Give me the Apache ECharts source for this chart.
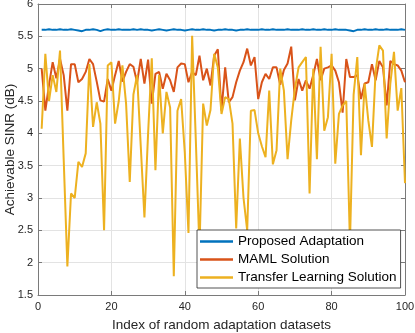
<!DOCTYPE html>
<html>
<head>
<meta charset="utf-8">
<script src="https://cdn.jsdelivr.net/npm/echarts@6/dist/echarts.min.js"></script>
<style>
  html, body { margin: 0; padding: 0; background: #fff; }
  #chart { width: 415px; height: 333px; }
</style>
</head>
<body>
<div id="chart"></div>
<script>
// series values, index 1..100
const proposed = [
  5.60, 5.60, 5.61, 5.60, 5.60, 5.61, 5.60, 5.60, 5.61, 5.60,
  5.59, 5.58, 5.60, 5.60, 5.61, 5.60, 5.58, 5.60, 5.61, 5.60,
  5.60, 5.61, 5.60, 5.60, 5.60, 5.61, 5.60, 5.61, 5.60, 5.60,
  5.59, 5.60, 5.61, 5.60, 5.59, 5.60, 5.61, 5.60, 5.60, 5.59,
  5.60, 5.61, 5.60, 5.60, 5.61, 5.60, 5.60, 5.59, 5.60, 5.60,
  5.61, 5.60, 5.60, 5.59, 5.60, 5.60, 5.61, 5.60, 5.60, 5.60,
  5.61, 5.60, 5.60, 5.61, 5.60, 5.60, 5.60, 5.61, 5.60, 5.60,
  5.60, 5.61, 5.60, 5.60, 5.61, 5.60, 5.60, 5.61, 5.60, 5.60,
  5.61, 5.60, 5.60, 5.60, 5.59, 5.58, 5.60, 5.60, 5.61, 5.60,
  5.60, 5.61, 5.60, 5.60, 5.61, 5.60, 5.60, 5.60, 5.61, 5.60
]

const maml = [
  5.00, 4.35, 4.75, 5.10, 4.85, 5.15, 4.90, 4.35, 5.07, 5.07,
  4.79, 4.84, 4.95, 5.15, 5.07, 4.80, 4.51, 4.49, 4.84, 4.66,
  4.90, 5.12, 4.80, 4.95, 5.07, 5.03, 4.79, 5.15, 4.77, 5.14,
  4.46, 4.92, 4.95, 4.69, 4.92, 4.82, 4.64, 5.02, 5.08, 5.07,
  4.79, 4.95, 4.90, 5.20, 4.82, 5.00, 4.74, 5.20, 5.30, 4.35,
  5.02, 4.48, 4.56, 4.79, 4.97, 5.10, 5.31, 5.05, 5.18, 4.53,
  4.79, 4.92, 4.84, 5.02, 5.02, 4.75, 4.98, 5.08, 5.34, 4.51,
  4.84, 4.66, 4.82, 4.69, 4.90, 5.15, 4.82, 5.00, 5.02, 5.05,
  4.97, 4.79, 4.32, 5.15, 4.87, 4.87, 4.90, 4.53, 4.77, 4.79,
  5.07, 4.82, 5.12, 5.02, 4.43, 5.12, 5.07, 5.05, 4.97, 4.79
]

const transfer = [
  4.07, 5.23, 4.50, 4.90, 4.64, 5.28, 3.60, 1.94, 3.07, 3.00,
  3.56, 3.48, 3.69, 5.07, 4.10, 4.48, 4.15, 2.50, 5.05, 5.10,
  4.15, 4.50, 5.05, 4.46, 3.25, 4.60, 4.90, 3.80, 2.70, 4.00,
  5.16, 3.43, 4.90, 4.00, 4.64, 4.40, 1.79, 4.35, 4.53, 3.70,
  2.46, 5.51, 3.90, 2.20, 4.46, 4.12, 4.36, 5.23, 5.02, 4.30,
  4.56, 4.53, 4.15, 2.53, 3.92, 3.00, 2.50, 4.35, 4.36, 4.00,
  3.80, 3.63, 4.66, 3.52, 3.74, 5.00, 4.66, 3.60, 4.20, 4.69,
  5.02, 5.10, 5.18, 3.07, 5.00, 3.60, 5.34, 4.04, 4.25, 5.23,
  3.53, 4.30, 4.43, 4.50, 2.30, 4.60, 5.18, 3.66, 4.77, 4.20,
  3.79, 4.97, 5.36, 5.28, 3.92, 4.77, 5.26, 4.35, 4.70, 3.23
]

const seriesNames = ['Proposed Adaptation', 'MAML Solution', 'Transfer Learning Solution']
const seriesColors = ['#0072BD', '#D95319', '#EDB120']
const xTicks = [0, 20, 40, 60, 80, 100]
const yTicks = [1.5, 2, 2.5, 3, 3.5, 4, 4.5, 5, 5.5, 6]

const FONT = '"Liberation Sans", Arial, Helvetica, sans-serif'
const AXIS_COLOR = '#7a7a7a'
const TEXT_COLOR = '#262626'

const toPoints = arr => arr.map((v, k) => [k + 1, v])

const chart = echarts.init(document.getElementById('chart'), null, { renderer: 'canvas' })

const baseX = {
  type: 'value',
  min: xTicks[0],
  max: xTicks[xTicks.length - 1],
  interval: 20,
  axisLine: { show: true, onZero: false, lineStyle: { color: AXIS_COLOR, width: 1 } },
  axisTick: { show: true, inside: true, length: 4, lineStyle: { color: AXIS_COLOR } },
}
const baseY = {
  type: 'value',
  min: yTicks[0],
  max: yTicks[yTicks.length - 1],
  interval: 0.5,
  axisLine: { show: true, onZero: false, lineStyle: { color: AXIS_COLOR, width: 1 } },
  axisTick: { show: true, inside: true, length: 4, lineStyle: { color: AXIS_COLOR } },
}

chart.setOption({
  animation: false,
  backgroundColor: '#fff',
  textStyle: { fontFamily: FONT },
  grid: { left: 38, right: 10, top: 4, bottom: 38, containLabel: false, outerBoundsMode: 'none' },
  legend: {
    data: seriesNames,
    orient: 'vertical',
    left: 197,
    top: 230,
    icon: 'rect',
    itemWidth: 33,
    itemHeight: 2.5,
    itemGap: 3,
    padding: [4, 4, 3, 3],
    backgroundColor: '#fff',
    borderColor: '#262626',
    borderWidth: 0.8,
    borderRadius: 0,
    textStyle: { fontFamily: FONT, fontSize: 13.5, lineHeight: 15, color: '#000' },
  },
  xAxis: [
    Object.assign({}, baseX, {
      position: 'bottom',
      name: 'Index of random adaptation datasets',
      nameLocation: 'middle',
      nameGap: 23,
      nameMoveOverlap: false,
      nameTextStyle: { fontFamily: FONT, fontSize: 13.5, color: TEXT_COLOR },
      axisLabel: { show: true, margin: 6, fontFamily: FONT, fontSize: 11, color: TEXT_COLOR },
      splitLine: { show: true, lineStyle: { color: '#e3e3e3', width: 1 } },
    }),
    Object.assign({}, baseX, {
      position: 'top',
      axisLabel: { show: false },
      splitLine: { show: false },
    }),
  ],
  yAxis: [
    Object.assign({}, baseY, {
      position: 'left',
      name: 'Achievable SINR (dB)',
      nameLocation: 'middle',
      nameGap: 21,
      nameMoveOverlap: false,
      nameTextStyle: { fontFamily: FONT, fontSize: 13.5, color: TEXT_COLOR },
      axisLabel: { show: true, margin: 5, fontFamily: FONT, fontSize: 11, color: TEXT_COLOR },
      splitLine: { show: true, lineStyle: { color: '#e3e3e3', width: 1 } },
    }),
    Object.assign({}, baseY, {
      position: 'right',
      axisLabel: { show: false },
      splitLine: { show: false },
    }),
  ],
  series: [proposed, maml, transfer].map((arr, k) => ({
    name: seriesNames[k],
    type: 'line',
    data: toPoints(arr),
    symbol: 'none',
    lineStyle: { color: seriesColors[k], width: 2 },
    itemStyle: { color: seriesColors[k] },
  })),
})
</script>
</body>
</html>
